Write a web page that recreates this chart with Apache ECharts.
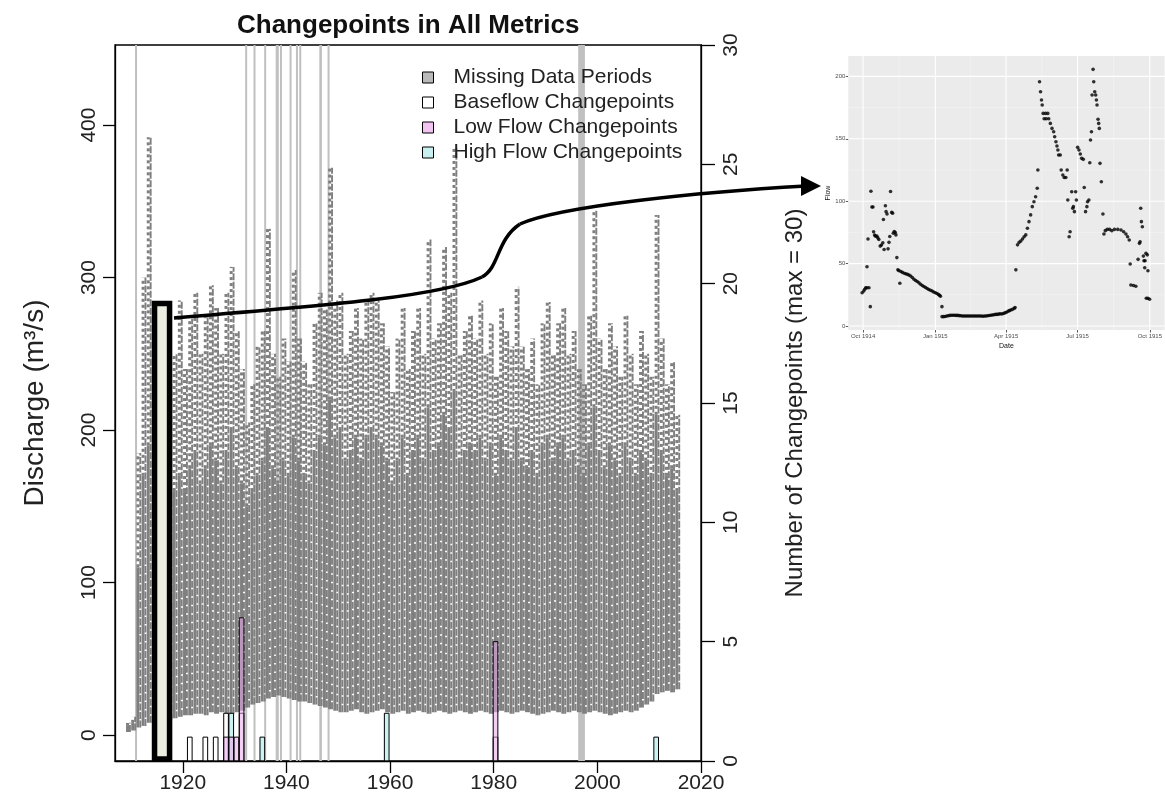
<!DOCTYPE html>
<html><head><meta charset="utf-8">
<script src="https://cdn.jsdelivr.net/npm/echarts@6/dist/echarts.min.js"></script>
<style>html,body{margin:0;padding:0;background:#fff}#c{width:1165px;height:810px}</style>
</head><body><div id="c"></div>
<script>
// ---------- main chart data ----------
const years = [];
for (let y = 1909; y <= 2015; y++) years.push(y);
const peakFlow = [
  8, 12, 185, 300, 392, 250, 206, 270, 230, 250,
  285, 240, 273, 290, 250, 275, 295, 280, 250, 290,
  307, 265, 240, 205, 230, 255, 265, 332, 250, 235,
  260, 245, 305, 260, 245, 230, 270, 290, 280, 372,
  285, 290, 250, 265, 280, 260, 285, 290, 285, 270,
  255, 225, 260, 280, 240, 265, 280, 250, 325, 260,
  270, 320, 290, 385, 250, 265, 275, 260, 285, 250,
  270, 235, 280, 265, 255, 294, 255, 240, 260, 230,
  270, 284, 250, 270, 280, 250, 265, 240, 230, 275,
  344, 260, 240, 270, 255, 235, 275, 250, 230, 265,
  250, 235, 341, 260, 230, 245, 210];
const bulkFlow = [
  6, 8, 110, 170, 190, 160, 140, 170, 150, 160,
  170, 160, 175, 185, 165, 175, 190, 180, 165, 185,
  200, 175, 165, 150, 160, 170, 180, 200, 175, 165,
  180, 170, 195, 180, 170, 165, 185, 195, 190, 220,
  195, 200, 180, 185, 195, 180, 195, 200, 195, 190,
  180, 165, 180, 195, 170, 185, 195, 180, 215, 185,
  190, 210, 200, 225, 180, 185, 190, 185, 195, 180,
  190, 170, 195, 185, 180, 200, 180, 175, 185, 170,
  190, 195, 180, 190, 195, 180, 185, 175, 170, 190,
  215, 185, 175, 190, 180, 170, 190, 180, 170, 185,
  180, 170, 210, 185, 170, 175, 160];
const lowFlow = [
  2, 3, 5, 6, 8, 8, 7, 9, 10, 11,
  12, 13, 13, 14, 14, 13, 15, 14, 15, 14,
  14, 15, 16, 18, 20, 21, 22, 24, 25, 26,
  25, 24, 23, 22, 22, 21, 20, 19, 18, 17,
  16, 15, 15, 16, 17, 15, 14, 15, 16, 17,
  15, 14, 15, 16, 14, 15, 16, 15, 14, 15,
  16, 15, 14, 15, 16, 15, 14, 15, 16, 15,
  14, 15, 16, 15, 14, 15, 16, 15, 14, 13,
  14, 15, 16, 15, 14, 15, 16, 15, 14, 15,
  16, 15, 14, 13, 14, 15, 16, 15, 16, 18,
  20, 22, 27, 28, 29, 28, 30];
const missingStart = [1910.88, 1932.13, 1933.74, 1935.8, 1937.93, 1938.84, 1940.7, 1941.93, 1942.57, 1946.35, 1948.03, 1996.3];
const missingEnd   = [1911.08, 1932.33, 1933.94, 1936.0, 1938.52, 1939.04, 1940.9, 1942.13, 1942.77, 1946.85, 1948.23, 1997.6];
const baseflowCP = [[1921, 1], [1924, 1], [1926, 1], [1928, 2], [1931, 2], [1980, 1]];
const lowflowCP  = [[1928, 1], [1929, 1], [1930, 1], [1931, 6], [1980, 5]];
const highflowCP = [[1929, 2], [1935, 1], [1959, 2], [2011, 1]];
const xTicks = [1920, 1940, 1960, 1980, 2000, 2020];
const leftTicks = [0, 100, 200, 300, 400];
const highlightBox = [[1914.55, 1917.45, -15.7, 283]];

// ---------- inset data (days since 1 Oct 1914, flow) ----------
const insetDays = [
  -1.2, 0.9, 2.1, 3.4, 5, 7.5, 5, 6.3, 9.2, 10, 11.3, 12.6, 13.4, 14.6, 15.9, 17.6, 18.8, 20.1, 21.8, 23.4,
  25.1, 25.9, 26.8, 28.4, 29.3, 30.5, 31.8, 33, 34, 35, 36.4, 37.6, 38.5, 39.7, 41, 41.8, 43, 44.3, 45.6, 46.8,
  48.1, 50, 52.3, 54.4, 56.5, 58.5, 60.6, 62.7, 64.8, 66.9, 69, 71.1, 73.2, 75.3, 77.4, 79.5, 81.6, 83.6, 85.7, 87.8,
  89.9, 92, 94.1, 96, 97.4, 98.5, 100.4,
  100.5, 102.5, 104.5, 106.5, 108.5, 110.5, 112.5, 114.5, 116.5, 118.5, 120.5, 122.5, 124.5, 126.5, 128.5, 130.5,
  132.5, 134.5, 136.5, 138.5, 140.5, 142.5, 144.5, 146.5, 148.5, 150.5, 152.5, 154.5, 156.5, 158.5, 160.5, 162.5,
  164.5, 166.5, 168.5, 170.5, 172.5, 174.5, 176.5, 178.5, 180.5, 182.5, 184.5, 186.2, 188, 190, 192.4, 193.5,
  194.5, 196.6, 198.7, 200.8, 202.9, 205, 207.1, 209.2, 211.2, 213.3, 215.4, 217.5, 219.6, 221.7, 222.5, 224.6,
  225.9, 227.1, 228, 229.2, 230.5, 232.2, 233, 235.1, 236.3, 238.4, 240.5, 242.6, 243.9, 245.5, 246.8, 248,
  248.9, 251, 252.2, 254.3, 256, 258.1, 259.8, 260.6, 262.3, 263.5, 265.6, 266.9, 267.7, 269, 270.6, 271.5,
  273.1, 274.8, 276.5, 278.2, 280.3, 281.5, 283.2, 284.9, 285.7, 287.4, 288.6, 289.5, 290.7, 291.5, 292.8, 293.6,
  294.9, 296.1, 297, 297.8, 299.1, 299.9, 300.7, 301.6, 303.3, 305.3, 306.6, 308.3, 310.8, 313.7, 316.6, 320,
  324.2, 328.3, 331.7, 334.6, 336.7, 338.8, 340, 340.9, 344.2, 347.2, 350.1, 351.8, 352.6, 353.4, 354.3, 355.5,
  356.8, 357.6, 358.9, 360.1, 361.8, 358.5, 362.6, 360.5, 362.6, 364.7];
const insetFlows = [
  26.7, 28, 29.4, 30.7, 30.7, 30.7, 47.5, 69.7, 15.5, 108, 95.3, 95.3, 75.5, 72.9, 72, 72, 70.6, 69.3, 64, 64.8,
  66.6, 85.3, 61.3, 96.3, 91.6, 89.7, 61.8, 67, 71.7, 107.8, 91, 90.4, 74.3, 75.7, 74.9, 73, 54.8, 45, 44.4, 34.2,
  43.7, 43, 42.3, 41.8, 41.4, 40.8, 40.1, 38.8, 37.5, 36.5, 35.6, 34.6, 33.5, 32.5, 31.6, 30.8, 30, 29.3, 28.7, 28,
  27.3, 26.6, 26, 25.2, 24.6, 23.8, 15.5,
  7.5, 7.5, 7.6, 8, 8.2, 8.5, 8.6, 8.6, 8.6, 8.5, 8.5, 8.3, 8.2, 8, 8, 8,
  8, 8, 8, 8, 8, 8, 8, 8, 8, 8, 7.8, 8, 8, 8.2, 8.4, 8.6,
  8.8, 9, 9.3, 9.3, 9.5, 9.8, 9.6, 10, 10.5, 11, 11.8, 12.3, 12.8, 13.3, 14.1, 14.8,
  45, 65, 67, 68, 69.7, 71.5, 73, 78.3, 83.6, 89, 95.6, 99.6, 103.6, 110.3, 125, 195.7,
  187.7, 181, 177, 170.3, 166, 170.3, 166, 170.3, 166, 162.3, 158.3, 155.6, 151.6, 147.6, 144.2, 141,
  137, 137, 125, 121, 119, 119, 125, 101, 71.5, 75.5, 107.6, 94.3, 95.6, 91.6, 107.6, 101,
  143.1, 141, 137.8, 134.3, 133.5, 111, 91.6, 95.6, 99.6, 101, 130.8, 149, 155.6, 185, 205.6, 195.7,
  187.7, 185, 181, 177, 165.6, 162.3, 158.3, 130.3, 115.6, 89.7, 73.7, 76.4, 77.4, 77.4, 76.4, 77.4,
  77.4, 76.9, 75.5, 73.7, 71.5, 68.9, 49.7, 32.8, 32.5, 31.8, 53.4, 66.2, 67.5, 94.3, 83.6, 79.5,
  56, 52.3, 52.3, 58.2, 57, 46.7, 44.3, 22.2, 22.2, 21.4];
const insetXTicks = [0, 92, 182, 273, 365];
const insetXLabels = ['Oct 1914', 'Jan 1915', 'Apr 1915', 'Jul 1915', 'Oct 1915'];
const insetXMinor = [46, 137, 227.5, 319];
const insetYTicks = [0, 50, 100, 150, 200];
const insetYMinor = [25, 75, 125, 175];

// ---------- chart ----------
const FF = '"Liberation Sans", Arial, sans-serif';
const GREY = '#7f7f7f';
const chart = echarts.init(document.getElementById('c'), null, {renderer: 'canvas'});

function cpSeries(name, data, fill) {
  return {
    name: name, type: 'custom', xAxisIndex: 0, yAxisIndex: 1, z: 4,
    itemStyle: {color: fill},
    data: data,
    renderItem: function (params, api) {
      const yr = api.value(0), n = api.value(1);
      const p0 = api.coord([yr - 0.1, 0]);
      const p1 = api.coord([yr + 0.8, n]);
      return {type: 'rect', shape: {x: p0[0], y: p1[1], width: p1[0] - p0[0], height: p0[1] - p1[1]},
        style: {fill: fill, stroke: '#000', lineWidth: 1}};
    }
  };
}

const option = {
  animation: false,
  textStyle: {fontFamily: FF},
  title: {
    text: 'Changepoints in All Metrics', left: 232, top: 8,
    textStyle: {fontFamily: FF, fontSize: 26, fontWeight: 'bold', color: '#111'}
  },
  legend: {
    orient: 'vertical', left: 417, top: 62, itemWidth: 11, itemHeight: 11, itemGap: 4,
    icon: 'rect', selectedMode: false,
    textStyle: {fontFamily: FF, fontSize: 21, color: '#222', padding: [0, 0, 0, 15]},
    data: [
      {name: 'Missing Data Periods', itemStyle: {color: '#b9b9b9', borderColor: '#000', borderWidth: 1}},
      {name: 'Baseflow Changepoints', itemStyle: {color: '#ffffff', borderColor: '#000', borderWidth: 1}},
      {name: 'Low Flow Changepoints', itemStyle: {color: '#f2c4f2', borderColor: '#000', borderWidth: 1}},
      {name: 'High Flow Changepoints', itemStyle: {color: '#c8f0f0', borderColor: '#000', borderWidth: 1}}
    ]
  },
  grid: [
    {left: 115, top: 45, width: 586, height: 716, show: true, borderColor: '#000', borderWidth: 1.3, backgroundColor: 'transparent'},
    {left: 848.3, top: 56, width: 320.9, height: 274, show: true, borderWidth: 0, backgroundColor: '#ebebeb'}
  ],
  xAxis: [
    {
      type: 'value', gridIndex: 0, min: 1906.92, max: 2020,
      axisLine: {show: true, onZero: false, lineStyle: {color: '#000', width: 1.3}},
      axisTick: {show: true, customValues: xTicks, length: 12, lineStyle: {color: '#000', width: 1.3}},
      axisLabel: {customValues: xTicks, fontSize: 21, color: '#222', margin: 12, fontFamily: FF,
        formatter: function (v) { return String(v); }},
      splitLine: {show: false}
    },
    {
      type: 'value', gridIndex: 1, min: -18.8, max: 383.8,
      axisLine: {show: false, onZero: false},
      axisTick: {show: true, customValues: insetXTicks, length: 2.5, lineStyle: {color: '#333', width: 0.8}},
      axisLabel: {customValues: insetXTicks, fontSize: 6, color: '#4d4d4d', margin: 3,
        formatter: function (v) { const i = insetXTicks.indexOf(v); return i >= 0 ? insetXLabels[i] : ''; }},
      splitLine: {show: false},
      name: 'Date', nameLocation: 'middle', nameGap: 13,
      nameTextStyle: {fontSize: 7, color: '#111', fontFamily: FF}
    }
  ],
  yAxis: [
    {
      type: 'value', gridIndex: 0, position: 'left', min: -17, max: 452.5,
      axisLine: {show: true, onZero: false, lineStyle: {color: '#000', width: 1.3}},
      axisTick: {show: true, customValues: leftTicks, length: 12, lineStyle: {color: '#000', width: 1.3}},
      axisLabel: {customValues: leftTicks, rotate: 90, fontSize: 21, color: '#222', margin: 15, fontFamily: FF},
      splitLine: {show: false},
      name: 'Discharge (m³/s)', nameLocation: 'middle', nameGap: 66, nameRotate: 90,
      nameTextStyle: {fontSize: 28, color: '#222', fontFamily: FF}
    },
    {
      type: 'value', gridIndex: 0, position: 'right', min: 0, max: 30, interval: 5,
      axisLine: {show: true, onZero: false, lineStyle: {color: '#000', width: 1.3}},
      axisTick: {show: true, length: 14, lineStyle: {color: '#000', width: 1.3}},
      axisLabel: {rotate: 90, fontSize: 21, color: '#222', margin: 20, fontFamily: FF},
      splitLine: {show: false},
      name: 'Number of Changepoints (max = 30)', nameLocation: 'middle', nameGap: 82, nameRotate: 90,
      nameTextStyle: {fontSize: 24, color: '#222', fontFamily: FF}
    },
    {
      type: 'value', gridIndex: 1, min: -3.2, max: 216.3,
      axisLine: {show: false, onZero: false},
      axisTick: {show: true, customValues: insetYTicks, length: 2.5, lineStyle: {color: '#333', width: 0.8}},
      axisLabel: {customValues: insetYTicks, fontSize: 6, color: '#4d4d4d', margin: 3},
      splitLine: {show: false},
      name: 'Flow', nameLocation: 'middle', nameGap: 17, nameRotate: 90,
      nameTextStyle: {fontSize: 7, color: '#111', fontFamily: FF}
    }
  ],
  series: [
    {
      name: 'Missing Data Periods', type: 'custom', xAxisIndex: 0, yAxisIndex: 0, z: 1,
      itemStyle: {color: '#bebebe'},
      data: missingStart.map((s, i) => [s, missingEnd[i]]),
      renderItem: function (params, api) {
        const a = api.coord([api.value(0), 0]);
        const b = api.coord([api.value(1), 0]);
        const cs = params.coordSys;
        const w = Math.max(b[0] - a[0], 2);
        return {type: 'rect', shape: {x: (a[0] + b[0]) / 2 - w / 2, y: cs.y, width: w, height: cs.height},
          style: {fill: '#c0c0c0'}};
      }
    },
    {
      name: 'Discharge', type: 'custom', xAxisIndex: 0, yAxisIndex: 0, z: 2,
      data: years.map((y, i) => [y, lowFlow[i], bulkFlow[i], peakFlow[i]]),
      renderItem: function (params, api) {
        const yr = api.value(0), lo = api.value(1), bk = api.value(2), pk = api.value(3);
        const pLo = api.coord([yr + 0.05, lo]);
        const pBk = api.coord([yr + 0.62, bk]);
        const xA = api.coord([yr + 0.34, 0])[0];
        const xB = api.coord([yr + 0.8, 0])[0];
        const yPk = api.coord([yr, pk])[1];
        return {type: 'group', children: [
          {type: 'rect', shape: {x: pLo[0], y: pBk[1], width: pBk[0] - pLo[0], height: pLo[1] - pBk[1]},
            style: {fill: GREY}},
          {type: 'line', shape: {x1: xB, y1: pLo[1], x2: xB, y2: yPk},
            style: {stroke: GREY, lineWidth: 1.9, lineDash: [7, 1.5]}},
          {type: 'line', shape: {x1: xA, y1: pBk[1], x2: xA, y2: yPk},
            style: {stroke: GREY, lineWidth: 3, lineDash: [3, 3]}}
        ]};
      }
    },
    cpSeries('Baseflow Changepoints', baseflowCP, 'rgba(255,255,255,0.6)'),
    cpSeries('High Flow Changepoints', highflowCP, 'rgba(170,235,235,0.6)'),
    cpSeries('Low Flow Changepoints', lowflowCP, 'rgba(235,165,235,0.55)'),
    {
      name: 'Highlight', type: 'custom', xAxisIndex: 0, yAxisIndex: 0, z: 6,
      data: highlightBox,
      renderItem: function (params, api) {
        const a = api.coord([api.value(0), api.value(2)]);
        const b = api.coord([api.value(1), api.value(3)]);
        return {type: 'rect', shape: {x: a[0], y: b[1], width: b[0] - a[0], height: a[1] - b[1]},
          style: {fill: '#ebeee0', stroke: '#000', lineWidth: 5.5}};
      }
    },
    {
      name: 'InsetGrid', type: 'custom', xAxisIndex: 1, yAxisIndex: 2, z: 1, silent: true,
      data: [[0, 0]],
      renderItem: function (params, api) {
        const cs = params.coordSys;
        const kids = [];
        insetYMinor.forEach(v => { const y = api.coord([0, v])[1];
          kids.push({type: 'line', shape: {x1: cs.x, y1: y, x2: cs.x + cs.width, y2: y}, style: {stroke: '#f5f5f5', lineWidth: 0.6}}); });
        insetXMinor.forEach(v => { const x = api.coord([v, 0])[0];
          kids.push({type: 'line', shape: {x1: x, y1: cs.y, x2: x, y2: cs.y + cs.height}, style: {stroke: '#f5f5f5', lineWidth: 0.6}}); });
        insetYTicks.forEach(v => { const y = api.coord([0, v])[1];
          kids.push({type: 'line', shape: {x1: cs.x, y1: y, x2: cs.x + cs.width, y2: y}, style: {stroke: '#ffffff', lineWidth: 1.1}}); });
        insetXTicks.forEach(v => { const x = api.coord([v, 0])[0];
          kids.push({type: 'line', shape: {x1: x, y1: cs.y, x2: x, y2: cs.y + cs.height}, style: {stroke: '#ffffff', lineWidth: 1.1}}); });
        return {type: 'group', children: kids};
      }
    },
    {
      name: 'Flow 1914-1915', type: 'scatter', xAxisIndex: 1, yAxisIndex: 2, z: 3,
      symbol: 'circle', symbolSize: 3.6, itemStyle: {color: '#000'},
      data: insetDays.map((d, i) => [d, insetFlows[i]])
    }
  ],
  graphic: [
    {type: 'bezierCurve', z: 100,
      shape: {x1: 174, y1: 318, cpx1: 320, cpy1: 306, cpx2: 440, cpy2: 297, x2: 482, y2: 277},
      style: {stroke: '#000', lineWidth: 3.5, fill: null}},
    {type: 'bezierCurve', z: 100,
      shape: {x1: 482, y1: 277, cpx1: 500, cpy1: 267, cpx2: 496, cpy2: 240, x2: 520, y2: 224},
      style: {stroke: '#000', lineWidth: 3.5, fill: null}},
    {type: 'bezierCurve', z: 100,
      shape: {x1: 520, y1: 224, cpx1: 560, cpy1: 206, cpx2: 700, cpy2: 192, x2: 806, y2: 186},
      style: {stroke: '#000', lineWidth: 3.5, fill: null}},
    {type: 'polygon', z: 100, shape: {points: [[801, 176], [821, 186], [801, 196]]}, style: {fill: '#000'}}
  ]
};
chart.setOption(option);
</script>
</body></html>
